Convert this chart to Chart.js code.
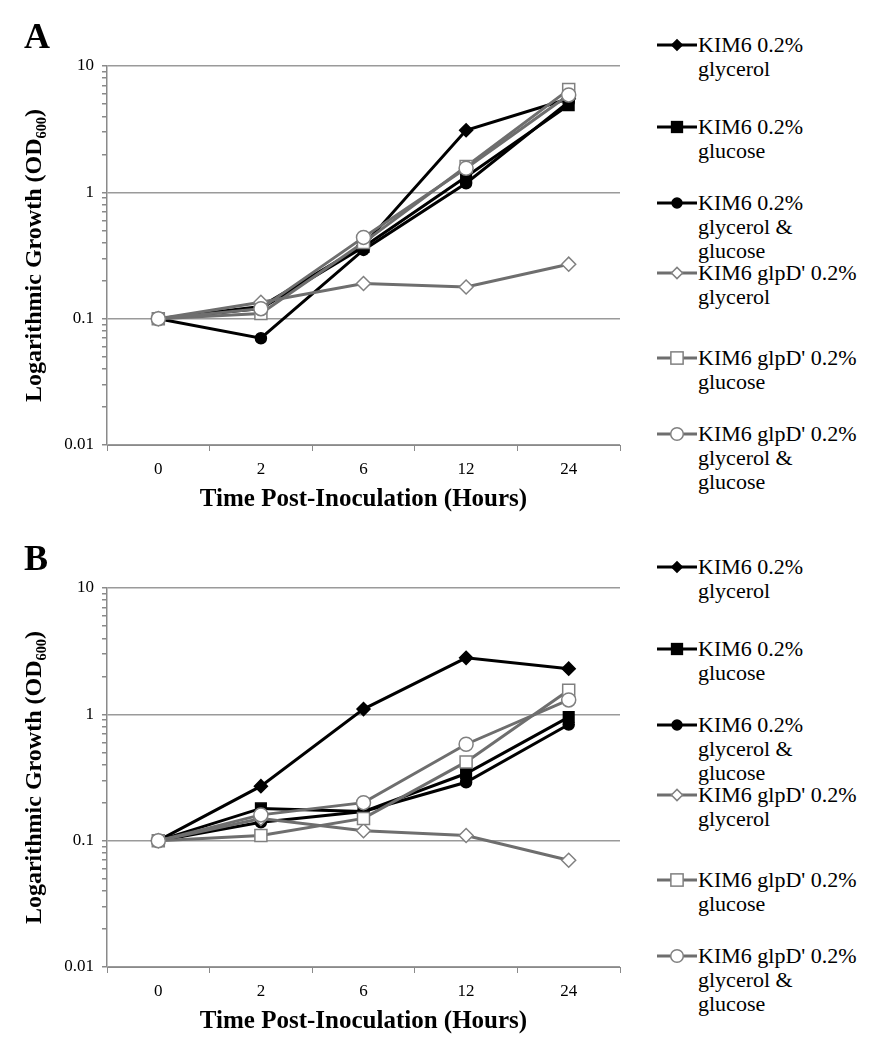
<!DOCTYPE html>
<html>
<head>
<meta charset="utf-8">
<script src="https://cdn.jsdelivr.net/npm/chart.js@4.4.1/dist/chart.umd.min.js"></script>
<style>
  html, body { margin: 0; padding: 0; background: #fff; }
  body { width: 878px; height: 1050px; position: relative; overflow: hidden; font-family: 'Liberation Serif', 'Times New Roman', serif; color: #000; }
  .panel { position: absolute; left: 0; width: 878px; height: 522px; }
  .panel canvas { position: absolute; left: 0; top: 0; }
  .tag { position: absolute; left: 24px; top: 16px; font-weight: bold; font-size: 36px; line-height: 40px; }
  .legend-item { position: absolute; left: 656px; }
  .legend-item svg { position: absolute; left: 0; top: 3.5px; }
  .legend-item div { position: absolute; left: 42px; top: 0; font-size: 22px; line-height: 24px; white-space: nowrap; }
</style>
</head>
<body>
<div class="panel" id="panelA" style="top:0px">
  <canvas id="chartA" width="640" height="520"></canvas>
  <div class="tag">A</div>
</div>
<div class="panel" id="panelB" style="top:522px">
  <canvas id="chartB" width="640" height="520"></canvas>
  <div class="tag">B</div>
</div>
<script>
// x categories (hours after inoculation)
const timeLabels = ['0', '2', '6', '12', '24'];

const seriesNames = [
  ['KIM6 0.2%', 'glycerol'],
  ['KIM6 0.2%', 'glucose'],
  ['KIM6 0.2%', 'glycerol &', 'glucose'],
  ["KIM6 glpD' 0.2%", 'glycerol'],
  ["KIM6 glpD' 0.2%", 'glucose'],
  ["KIM6 glpD' 0.2%", 'glycerol &', 'glucose']
];

// panel A, OD600
const aKim6Glycerol = [0.1, 0.125, 0.38, 3.1, 5.5];
const aKim6Glucose = [0.1, 0.12, 0.37, 1.33, 4.9];
const aKim6GlycGluc = [0.1, 0.07, 0.35, 1.18, 5.2];
const aGlpDGlycerol = [0.1, 0.135, 0.19, 0.178, 0.27];
const aGlpDGlucose = [0.1, 0.11, 0.4, 1.6, 6.5];
const aGlpDGlycGluc = [0.1, 0.12, 0.44, 1.55, 5.9];

// panel B, OD600
const bKim6Glycerol = [0.1, 0.27, 1.1, 2.8, 2.3];
const bKim6Glucose = [0.1, 0.18, 0.17, 0.34, 0.95];
const bKim6GlycGluc = [0.1, 0.14, 0.17, 0.29, 0.83];
const bGlpDGlycerol = [0.1, 0.15, 0.12, 0.11, 0.07];
const bGlpDGlucose = [0.1, 0.11, 0.15, 0.42, 1.55];
const bGlpDGlycGluc = [0.1, 0.16, 0.2, 0.58, 1.3];

// log axis ticks
const yDecades = [0.01, 0.1, 1, 10];
const yMinorSteps = [2, 3, 4, 5, 6, 7, 8, 9];

const GREY = '#6e6e6e';
const seriesStyles = [
  { line: '#000', shape: 'rectRot', r: 6.5, fill: '#000', edge: '#000' },
  { line: '#000', shape: 'rect', r: 7.5, fill: '#000', edge: '#000' },
  { line: '#000', shape: 'circle', r: 5.5, fill: '#000', edge: '#000' },
  { line: GREY, shape: 'rectRot', r: 7, fill: '#fff', edge: '#808080' },
  { line: GREY, shape: 'rect', r: 8.5, fill: '#fff', edge: '#808080' },
  { line: GREY, shape: 'circle', r: 7, fill: '#fff', edge: '#808080' }
];

// y of the first text line of each legend entry, relative to panel top
const legendTops = [45, 127, 203, 273, 358, 434];

const serif = "'Liberation Serif', 'Times New Roman', serif";

function yTicks() {
  const out = [];
  yDecades.forEach((d, i) => {
    out.push(d);
    if (i < yDecades.length - 1) yMinorSteps.forEach(m => out.push(d * m));
  });
  return out;
}

function makeChart(id, values) {
  new Chart(document.getElementById(id), {
    type: 'line',
    data: {
      labels: timeLabels,
      datasets: values.map((v, i) => ({
        label: seriesNames[i].join(' '),
        data: v,
        borderColor: seriesStyles[i].line,
        borderWidth: 3,
        tension: 0,
        pointStyle: seriesStyles[i].shape,
        pointRadius: seriesStyles[i].r,
        pointBackgroundColor: seriesStyles[i].fill,
        pointBorderColor: seriesStyles[i].edge,
        pointBorderWidth: 1.5,
        order: values.length - i
      }))
    },
    options: {
      responsive: false,
      animation: false,
      devicePixelRatio: 1,
      layout: { padding: { top: 66, right: 20, left: 0, bottom: 0 } },
      plugins: { legend: { display: false }, tooltip: { enabled: false } },
      scales: {
        x: {
          type: 'category',
          offset: true,
          afterFit: (scale) => { scale.height = 75; },
          grid: { offset: true, drawOnChartArea: false, drawTicks: true, tickLength: 6, color: '#8a8a8a', tickColor: '#8a8a8a' },
          border: { color: '#8a8a8a', width: 1 },
          ticks: { color: '#000', padding: 8, font: { family: serif, size: 17 } },
          title: {
            display: true,
            text: 'Time Post-Inoculation (Hours)',
            color: '#000',
            font: { family: serif, size: 25, weight: 'bold' },
            padding: { top: 0, bottom: 5 }
          }
        },
        y: {
          type: 'logarithmic',
          min: 0.01,
          max: 10,
          afterFit: (scale) => { scale.width = 107; },
          afterBuildTicks: (scale) => { scale.ticks = yTicks().map(v => ({ value: v })); },
          grid: {
            color: (ctx) => (ctx.tick && yDecades.includes(ctx.tick.value)) ? '#9a9a9a' : 'rgba(0,0,0,0)',
            tickColor: '#8a8a8a',
            tickLength: 5,
            lineWidth: 1.5
          },
          border: { color: '#8a8a8a', width: 1.5 },
          ticks: {
            autoSkip: false,
            color: '#000',
            padding: 8,
            font: { family: serif, size: 17 },
            callback: (v) => yDecades.includes(v) ? String(v) : ''
          },
          title: {
            display: true,
            text: 'Logarithmic Growth (OD\u2086\u2080\u2080)',
            color: '#000',
            font: { family: serif, size: 24, weight: 'bold' },
            padding: { top: 20, bottom: 0 }
          }
        }
      }
    }
  });
}

function markerSvg(st) {
  const cx = 21, cy = 8;
  let shape = '';
  if (st.shape === 'rectRot') {
    const r = st.r * 0.8;
    shape = `<polygon points="${cx - r},${cy} ${cx},${cy - r} ${cx + r},${cy} ${cx},${cy + r}" fill="${st.fill}" stroke="${st.edge}" stroke-width="1.5"/>`;
  } else if (st.shape === 'rect') {
    const s = st.r * 0.72;
    shape = `<rect x="${cx - s}" y="${cy - s}" width="${2 * s}" height="${2 * s}" fill="${st.fill}" stroke="${st.edge}" stroke-width="1.5"/>`;
  } else {
    shape = `<circle cx="${cx}" cy="${cy}" r="${st.r * 0.9}" fill="${st.fill}" stroke="${st.edge}" stroke-width="1.5"/>`;
  }
  return `<svg width="44" height="17" viewBox="0 0 44 17"><line x1="1" y1="${cy}" x2="41" y2="${cy}" stroke="${st.line}" stroke-width="3"/>${shape}</svg>`;
}

function makeLegend(panelId) {
  const panel = document.getElementById(panelId);
  seriesNames.forEach((lines, i) => {
    const item = document.createElement('div');
    item.className = 'legend-item';
    item.style.top = (legendTops[i] - 12) + 'px';
    item.innerHTML = markerSvg(seriesStyles[i]) + '<div>' + lines.join('<br>') + '</div>';
    panel.appendChild(item);
  });
}

makeChart('chartA', [aKim6Glycerol, aKim6Glucose, aKim6GlycGluc, aGlpDGlycerol, aGlpDGlucose, aGlpDGlycGluc]);
makeChart('chartB', [bKim6Glycerol, bKim6Glucose, bKim6GlycGluc, bGlpDGlycerol, bGlpDGlucose, bGlpDGlycGluc]);
makeLegend('panelA');
makeLegend('panelB');
</script>
</body>
</html>
